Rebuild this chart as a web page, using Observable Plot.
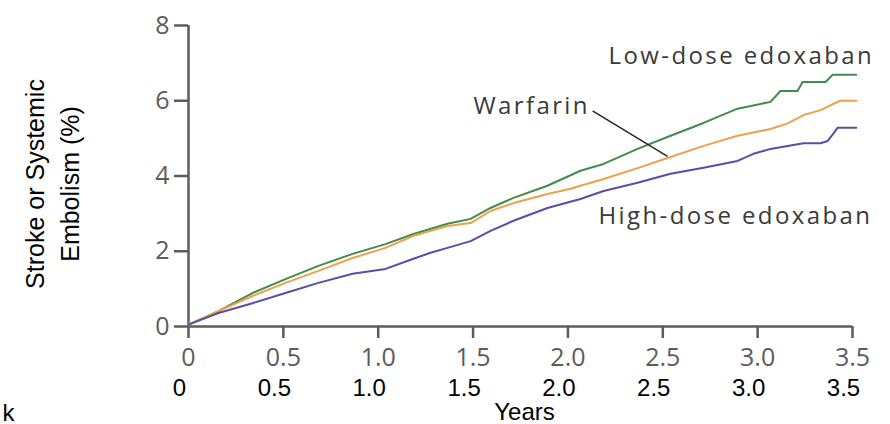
<!DOCTYPE html>
<html>
<head>
<meta charset="utf-8">
<script src="https://cdn.jsdelivr.net/npm/d3@7"></script>
<script src="https://cdn.jsdelivr.net/npm/@observablehq/plot@0.6"></script>
<style>
  html, body { margin: 0; padding: 0; background: #fff; }
  #chart svg { display: block; }
</style>
</head>
<body>
<div id="chart"></div>
<script>
// Cumulative incidence of stroke or systemic embolism by treatment arm
const seriesNames = ["Low-dose edoxaban", "Warfarin", "High-dose edoxaban"];
const seriesColors = ["#3f8c4c", "#eea04b", "#5b4ca6"];

const lowDoseYears = [0, 0.158, 0.337, 0.511, 0.685, 0.865, 1.038, 1.186, 1.365, 1.487, 1.592, 1.713, 1.892, 2.066, 2.188, 2.367, 2.541, 2.715, 2.894, 3.068, 3.12, 3.21, 3.237, 3.358, 3.374, 3.395, 3.52];
const lowDoseRisk  = [0.05, 0.41, 0.89, 1.26, 1.61, 1.93, 2.19, 2.46, 2.73, 2.86, 3.15, 3.42, 3.74, 4.14, 4.32, 4.72, 5.07, 5.41, 5.79, 5.97, 6.26, 6.26, 6.50, 6.50, 6.58, 6.69, 6.69];

const warfarinYears = [0, 0.158, 0.337, 0.511, 0.685, 0.865, 1.038, 1.186, 1.365, 1.487, 1.592, 1.713, 1.892, 2.014, 2.066, 2.188, 2.367, 2.525, 2.715, 2.894, 3.068, 3.158, 3.242, 3.332, 3.400, 3.437, 3.52];
const warfarinRisk  = [0.05, 0.41, 0.81, 1.16, 1.48, 1.82, 2.09, 2.41, 2.67, 2.75, 3.07, 3.28, 3.52, 3.66, 3.74, 3.92, 4.21, 4.48, 4.80, 5.07, 5.25, 5.40, 5.62, 5.75, 5.92, 6.00, 6.00];

const highDoseYears = [0, 0.158, 0.337, 0.511, 0.685, 0.865, 1.038, 1.186, 1.276, 1.365, 1.487, 1.592, 1.713, 1.892, 2.066, 2.188, 2.367, 2.541, 2.715, 2.894, 2.978, 3.068, 3.158, 3.242, 3.332, 3.368, 3.395, 3.421, 3.52];
const highDoseRisk  = [0.05, 0.36, 0.62, 0.89, 1.16, 1.40, 1.53, 1.80, 1.96, 2.09, 2.27, 2.54, 2.81, 3.15, 3.39, 3.60, 3.82, 4.06, 4.22, 4.40, 4.59, 4.72, 4.80, 4.87, 4.87, 4.93, 5.10, 5.28, 5.28];

const yTicks = [0, 2, 4, 6, 8];
const xTicks = [0, 0.5, 1.0, 1.5, 2.0, 2.5, 3.0, 3.5];
const xTickLabels = ["0", "0.5", "1.0", "1.5", "2.0", "2.5", "3.0", "3.5"];

// Series labels (data coordinates of the label start) and the Warfarin leader line
const labelYears = [2.214, 1.502, 2.161];
const labelRisk = [7.19, 5.86, 2.92];
const leaderFrom = [2.13, 5.73];
const leaderTo = [2.525, 4.52];

const curves = [
  [lowDoseYears, lowDoseRisk],
  [warfarinYears, warfarinRisk],
  [highDoseYears, highDoseRisk]
].flatMap(([years, risk], s) =>
  years.map((t, i) => ({series: seriesNames[s], years: t, risk: risk[i]}))
);

const labels = seriesNames.map((name, i) => ({name, years: labelYears[i], risk: labelRisk[i]}));
const lowerTicks = xTicks.map((t, i) => ({t, label: xTickLabels[i]}));

const axisGray = "#5c5c5c";
const imgFont = "'Open Sans', 'DejaVu Sans', sans-serif";
const arial = "'Liberation Sans', Arial, sans-serif";

const chart = Plot.plot({
  width: 890,
  height: 424,
  marginLeft: 188,
  marginRight: 38,
  marginTop: 25,
  marginBottom: 98,
  x: {domain: [0, 3.5]},
  y: {domain: [0, 8]},
  color: {domain: seriesNames, range: seriesColors},
  marks: [
    Plot.ruleY([0], {stroke: axisGray, strokeWidth: 2.5}),
    Plot.ruleX([0], {stroke: axisGray, strokeWidth: 2.5}),
    Plot.axisY({
      ticks: yTicks, tickSize: 14, tickPadding: 5, label: null,
      fontSize: 25, fontFamily: imgFont, fill: axisGray, stroke: axisGray, strokeWidth: 2.5
    }),
    Plot.axisX({
      ticks: xTicks, tickSize: 12, tickPadding: 10, label: null,
      tickFormat: (d, i) => xTickLabels[i],
      fontSize: 25, fontFamily: imgFont, fill: axisGray, stroke: axisGray, strokeWidth: 2.5
    }),
    // second row of year labels in Arial
    Plot.text(lowerTicks, {
      x: "t", text: "label", frameAnchor: "bottom", lineAnchor: "top", dy: 52, dx: -9,
      fontSize: 24, fontFamily: arial, fontWeight: "normal", fill: "#000"
    }),
    Plot.line(curves, {x: "years", y: "risk", z: "series", stroke: "series", strokeWidth: 2, curve: "linear"}),
    Plot.link([{x1: leaderFrom[0], y1: leaderFrom[1], x2: leaderTo[0], y2: leaderTo[1]}], {
      x1: "x1", y1: "y1", x2: "x2", y2: "y2", stroke: "#2a2a2a", strokeWidth: 1.6
    }),
    Plot.text(labels, {
      x: "years", y: "risk", text: "name", textAnchor: "start",
      fontSize: 24, fontFamily: imgFont, fill: "#3a3a3a"
    }),
    Plot.text(["Years"], {
      frameAnchor: "bottom", lineAnchor: "top", dy: 76, dx: 4,
      fontSize: 24, fontFamily: arial, fill: "#000"
    }),
    Plot.text(["Stroke or Systemic\nEmbolism (%)"], {
      frameAnchor: "left", textAnchor: "middle", rotate: -90, dx: -138, dy: 8, lineHeight: 1.4,
      fontSize: 25, fontFamily: arial, fill: "#000"
    }),
    Plot.text(["k"], {
      frameAnchor: "bottom-left", textAnchor: "start", lineAnchor: "bottom",
      dx: -186, dy: 94, fontSize: 24, fontFamily: arial, fill: "#000"
    })
  ]
});

// the series labels are set with wide letter spacing
d3.select(chart).selectAll("text")
  .filter(function () { return seriesNames.includes(this.textContent); })
  .style("letter-spacing", "2.4px");

document.getElementById("chart").appendChild(chart);
</script>
</body>
</html>
